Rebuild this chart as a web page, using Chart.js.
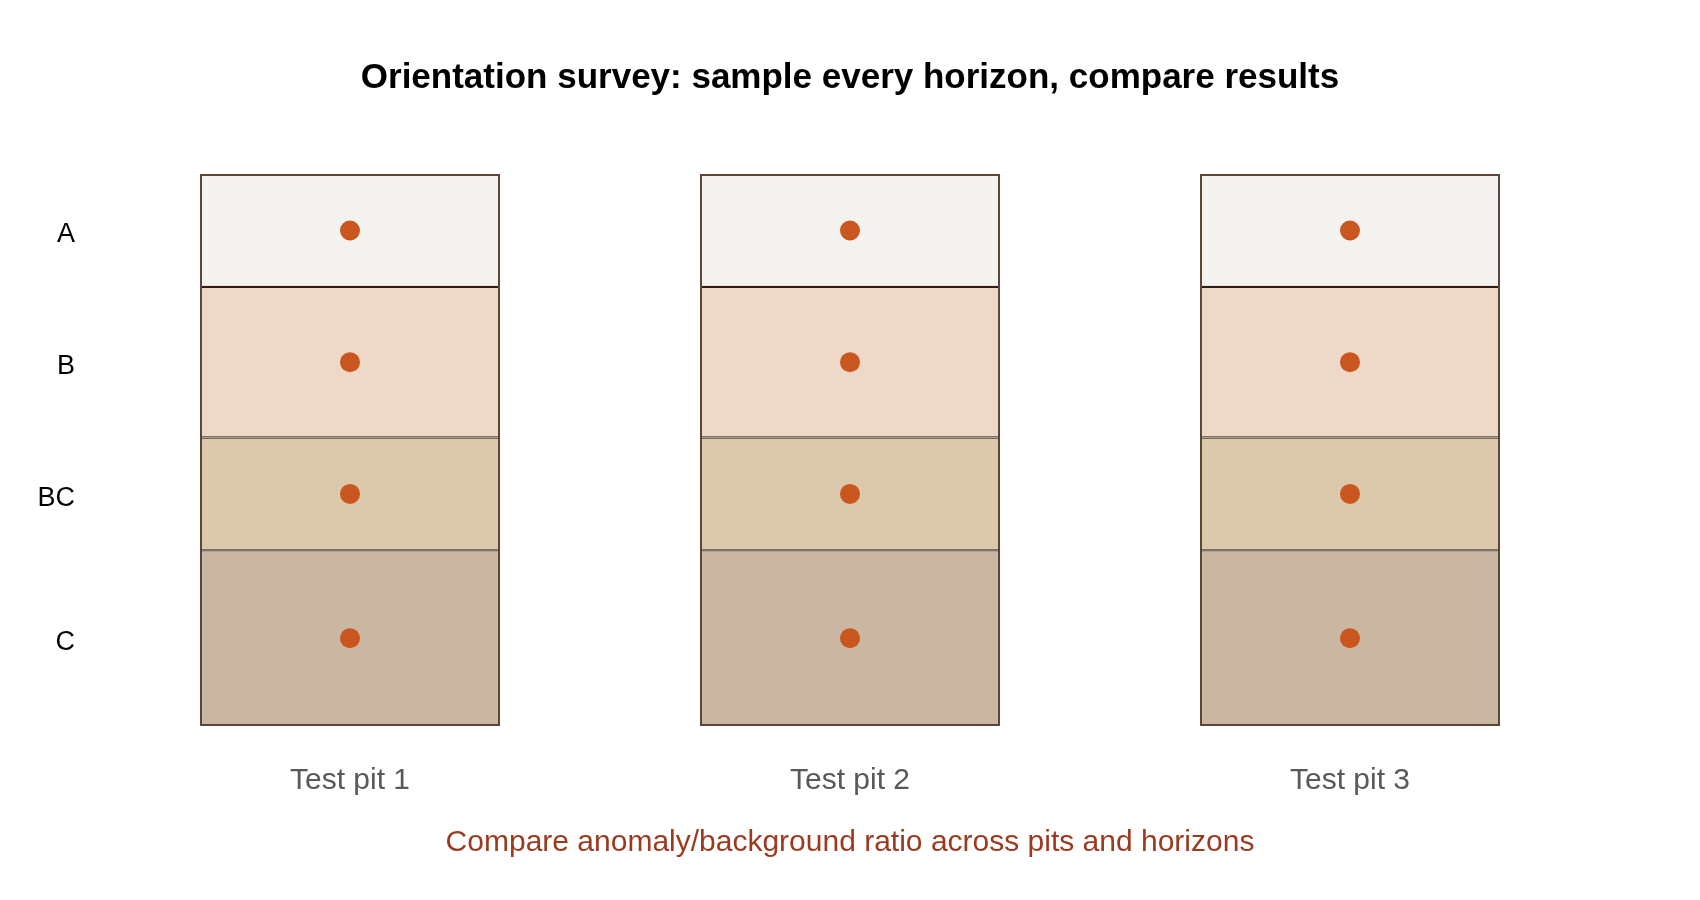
<!DOCTYPE html>
<html>
<head>
<meta charset="utf-8">
<title>Orientation survey</title>
<script src="https://cdn.jsdelivr.net/npm/chart.js@4.4.1/dist/chart.umd.min.js"></script>
<style>
  html, body { margin: 0; padding: 0; background: #ffffff; }
  #wrap { width: 1700px; height: 900px; position: relative; }
</style>
</head>
<body>
<div id="wrap"><canvas id="myChart"></canvas></div>
<script>
// test pits across the x axis
const pits = ['Test pit 1', 'Test pit 2', 'Test pit 3'];
// soil horizons, top to bottom, with depth limits (same in every pit)
const horizons = ['A', 'B', 'BC', 'C'];
const horizonTop = [0, 18, 42, 60];
const horizonBottom = [18, 42, 60, 88];
// depth where each horizon is sampled
const sampleDepth = [9, 30, 51, 74];
const horizonColors = ['#f3f2ee', '#eed9c8', '#dcc8ab', '#c9b7a2'];

const font = "'Liberation Sans', Arial, sans-serif";
// horizon names sit a touch below the sample dots
const labelNudge = 0.7;

const datasets = [];
horizons.forEach((h, i) => {
    datasets.push({
        type: 'bar',
        label: h,
        data: pits.map(() => [horizonTop[i], horizonBottom[i]]),
        backgroundColor: horizonColors[i],
        borderColor: '#2e1a0e',
        borderWidth: 1.2,
        borderSkipped: false,
        grouped: false,
        barPercentage: 0.6,
        categoryPercentage: 1,
        order: 3
    });
});
// outline of the whole pit
datasets.push({
    type: 'bar',
    label: 'pit',
    data: pits.map(() => [horizonTop[0], horizonBottom[horizonBottom.length - 1]]),
    backgroundColor: 'rgba(0,0,0,0)',
    borderColor: '#5e4535',
    borderWidth: 2,
    borderSkipped: false,
    grouped: false,
    barPercentage: 0.6,
    categoryPercentage: 1,
    order: 2
});
horizons.forEach((h, i) => {
    datasets.push({
        type: 'line',
        label: h + ' sample',
        data: pits.map(() => sampleDepth[i]),
        showLine: false,
        pointRadius: 10,
        pointHoverRadius: 10,
        pointBackgroundColor: '#c8561e',
        pointBorderWidth: 0,
        order: 1
    });
});

const config = {
    type: 'bar',
    data: { labels: pits, datasets: datasets },
    options: {
        responsive: true,
        maintainAspectRatio: false,
        animation: false,
        layout: { padding: 0 },
        scales: {
            x: {
                grid: { display: false, drawTicks: false },
                border: { display: false },
                afterFit: (axis) => { axis.height = 78; },
                ticks: {
                    color: '#595959',
                    padding: 37,
                    maxRotation: 0,
                    font: { family: font, size: 30 }
                }
            },
            y: {
                reverse: true,
                min: 0,
                max: 88,
                grid: { display: false, drawTicks: false },
                border: { display: false },
                afterBuildTicks: (axis) => {
                    axis.ticks = sampleDepth.map(v => ({ value: v + labelNudge }));
                },
                afterFit: (axis) => { axis.width = 100; },
                ticks: {
                    color: '#000000',
                    padding: 25,
                    font: { family: font, size: 27 },
                    callback: (value) => horizons[sampleDepth.indexOf(Math.round(value - labelNudge))]
                }
            },
            // empty right margin so the titles stay centred on the page
            yRight: {
                position: 'right',
                reverse: true,
                min: 0,
                max: 88,
                grid: { display: false, drawTicks: false },
                border: { display: false },
                ticks: { display: false },
                afterFit: (axis) => { axis.width = 100; }
            }
        },
        plugins: {
            legend: { display: false },
            tooltip: { enabled: false },
            title: {
                display: true,
                text: 'Orientation survey: sample every horizon, compare results',
                color: '#000000',
                font: { family: font, size: 35, weight: 'bold' },
                padding: { top: 57, bottom: 75 }
            },
            subtitle: {
                display: true,
                position: 'bottom',
                text: 'Compare anomaly/background ratio across pits and horizons',
                color: '#9b3a1e',
                font: { family: font, size: 30 },
                padding: { top: 21, bottom: 39 }
            }
        }
    }
};

var myChart = new Chart(
    document.getElementById('myChart'),
    config
);
</script>
</body>
</html>
